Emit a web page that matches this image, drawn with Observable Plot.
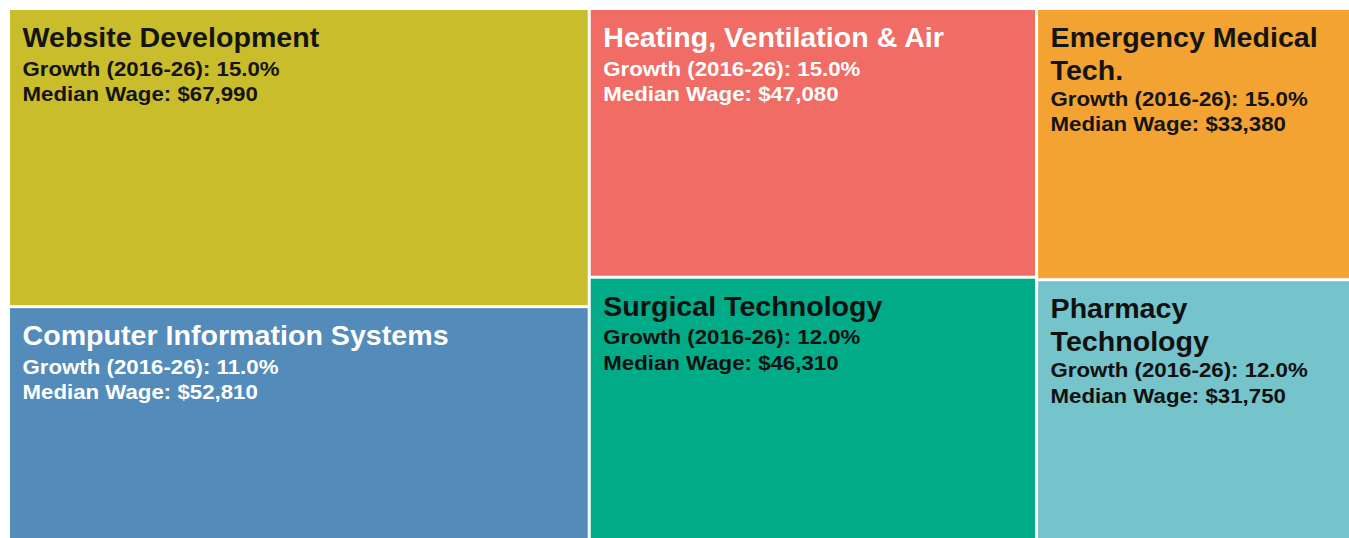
<!DOCTYPE html>
<html>
<head>
<meta charset="utf-8">
<script src="https://cdn.jsdelivr.net/npm/d3@7"></script>
<script src="https://cdn.jsdelivr.net/npm/@observablehq/plot@0.6"></script>
<style>
  html, body { margin: 0; padding: 0; background: #ffffff; }
  #chart svg { display: block; }
</style>
</head>
<body>
<div id="chart"></div>
<script>
// ---- Data ----
const programs = ["Website Development", "Computer Information Systems", "Heating, Ventilation & Air", "Surgical Technology", "Emergency Medical Tech.", "Pharmacy Technology"];
const columnGroup = ["Tech", "Tech", "Trades", "Trades", "Health", "Health"];
const growthPct = [15.0, 11.0, 15.0, 12.0, 15.0, 12.0];
const medianWage = [67990, 52810, 47080, 46310, 33380, 31750];
const tileSize = [242, 189, 168, 164, 119, 114];
const tileColors = ["#c9bd2c", "#538bba", "#f06c64", "#02ab88", "#f2a332", "#75c3cb"];
const labelColors = ["#141414", "#ffffff", "#ffffff", "#111111", "#141414", "#111111"];

// ---- Layout ----
const W = 1339, H = 528;
const rows = programs.map((name, i) => ({
  name, group: columnGroup[i], growth: growthPct[i], wage: medianWage[i],
  size: tileSize[i], color: tileColors[i], textColor: labelColors[i]
}));
const root = d3.hierarchy({children: Array.from(d3.group(rows, d => d.group), ([key, children]) => ({key, children}))})
  .sum(d => d.size || 0);
d3.treemap().tile(d3.treemapSliceDice).size([W, H]).paddingInner(3).round(false)(root);
const leaves = root.leaves();

const titleFont = 27, detailFont = 21, pad = 12, stretch = 1.06;
const fontFamily = "'Liberation Sans', Arial, Helvetica, sans-serif";
const ctx = document.createElement("canvas").getContext("2d");
ctx.font = `bold ${titleFont}px ${fontFamily}`;
function wrap(text, maxWidth) {
  const words = text.split(" ");
  const lines = [];
  let line = "";
  for (const w of words) {
    const test = line ? line + " " + w : w;
    if (line && ctx.measureText(test).width * stretch > maxWidth) { lines.push(line); line = w; }
    else line = test;
  }
  if (line) lines.push(line);
  return lines;
}
const fmtWage = d3.format("$,");
const titleLH = 33, detailLH = 25.5, titleBase = 36.5;

const marks = [
  Plot.rect(leaves, {
    x1: d => d.x0, x2: d => d.x1, y1: d => d.y0, y2: d => d.y1,
    fill: d => d.data.name
  })
];
for (const leaf of leaves) {
  const lines = wrap(leaf.data.name, (leaf.x1 - leaf.x0) - 2 * pad);
  marks.push(Plot.text([leaf], {
    x: d => d.x0, y: d => d.y0,
    text: () => lines.join("\n"),
    dx: pad, dy: titleBase - 0.71 * titleLH,
    textAnchor: "start", lineAnchor: "top",
    fontSize: titleFont, fontWeight: "bold", fontFamily,
    lineHeight: titleLH / titleFont,
    fill: leaf.data.textColor,
    className: "lbl"
  }));
  const detailBase = titleBase + (lines.length - 1) * titleLH + (lines.length > 1 ? 26 : 28.5);
  marks.push(Plot.text([leaf], {
    x: d => d.x0, y: d => d.y0,
    text: d => `Growth (2016-26): ${d.data.growth.toFixed(1)}%\nMedian Wage: ${fmtWage(d.data.wage)}`,
    dx: pad, dy: detailBase - 0.71 * detailLH,
    textAnchor: "start", lineAnchor: "top",
    fontSize: detailFont, fontWeight: "bold", fontFamily,
    lineHeight: detailLH / detailFont,
    fill: leaf.data.textColor,
    className: "lbl"
  }));
}

const chart = Plot.plot({
  width: 1349, height: 538,
  marginLeft: 10, marginTop: 10, marginRight: 0, marginBottom: 0,
  x: {domain: [0, W], axis: null},
  y: {domain: [0, H], reverse: true, axis: null},
  color: {domain: programs, range: tileColors},
  style: {background: "#ffffff", fontFamily},
  marks
});
document.getElementById("chart").appendChild(chart);
// slight horizontal widening of label glyphs, as in the reference
chart.querySelectorAll("g[aria-label='text'] text").forEach(t => {
  const tr = t.getAttribute("transform") || "";
  t.setAttribute("transform", `${tr} scale(${stretch},1)`);
});
</script>
</body>
</html>
